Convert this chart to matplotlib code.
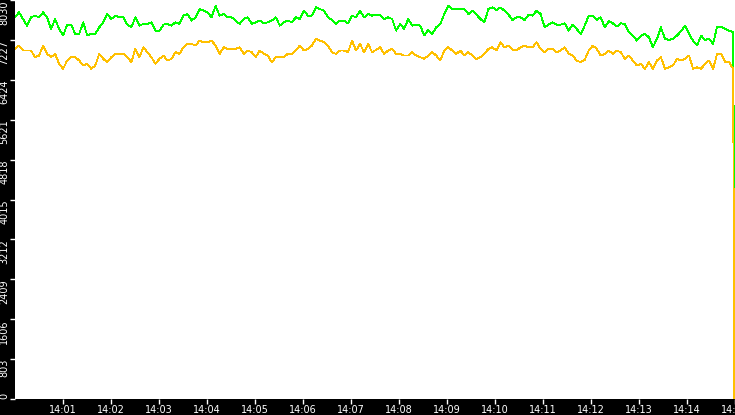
import numpy as np
import matplotlib
matplotlib.use('Agg')
import matplotlib.pyplot as plt

# one sample about every 5 s from 14:00:00, the last point is the drop just before 14:15
green = [7681, 7782, 7648, 7514, 7681, 7715, 7681, 7782, 7681, 7447, 7648, 7447, 7314,
         7534, 7534, 7347, 7347, 7581, 7314, 7347, 7347, 7481, 7581, 7748, 7648, 7715,
         7681, 7681, 7534, 7481, 7681, 7514, 7548, 7548, 7581, 7414, 7414, 7534, 7548,
         7514, 7581, 7548, 7715, 7748, 7615, 7681, 7849, 7815, 7782, 7681, 7916, 7715,
         7748, 7681, 7681, 7615, 7548, 7648, 7681, 7548, 7581, 7615, 7561, 7581, 7615,
         7681, 7514, 7581, 7615, 7581, 7681, 7648, 7815, 7715, 7715, 7882, 7849, 7815,
         7681, 7628, 7548, 7615, 7615, 7561, 7715, 7681, 7815, 7681, 7748, 7715, 7735,
         7735, 7648, 7681, 7648, 7414, 7548, 7447, 7648, 7514, 7534, 7514, 7314, 7427,
         7347, 7481, 7548, 7748, 7916, 7849, 7849, 7849, 7849, 7748, 7815, 7735, 7648,
         7581, 7849, 7882, 7829, 7882, 7815, 7735, 7628, 7681, 7681, 7628, 7735, 7715,
         7815, 7748, 7481, 7534, 7581, 7534, 7534, 7561, 7414, 7534, 7447, 7347, 7514,
         7715, 7715, 7628, 7681, 7481, 7601, 7561, 7494, 7561, 7548, 7380, 7314, 7213,
         7314, 7347, 7280, 7079, 7247, 7481, 7247, 7227, 7247, 7314, 7401, 7514, 7347,
         7213, 7113, 7314, 7227, 7247, 7146, 7494, 7494, 7447, 7414, 7380,
         3300]

orange = [7046, 7113, 7012, 7012, 7012, 6879, 6912, 7113, 6946, 6879, 6946, 6745, 6645,
          6812, 6879, 6879, 6812, 6711, 6745, 6645, 6711, 6946, 6845, 6778, 6879, 6946,
          6946, 6946, 6879, 6778, 7046, 6879, 7079, 6979, 6879, 6745, 6845, 6912, 6812,
          6845, 6979, 6946, 7079, 7146, 7146, 7113, 7213, 7180, 7180, 7213, 7113, 6946,
          7079, 7046, 7046, 7046, 7079, 6946, 7012, 6979, 6879, 7012, 6946, 6912, 6778,
          6879, 6879, 6879, 6946, 6946, 7012, 7113, 7012, 7046, 7113, 7247, 7213, 7180,
          7113, 6979, 6946, 7012, 7012, 6979, 7213, 7012, 7146, 6979, 7146, 6979, 7026,
          7079, 6946, 7012, 7046, 6946, 6946, 6912, 6912, 6979, 6912, 6879, 6845, 6912,
          6979, 6912, 6812, 7012, 7079, 7012, 6946, 7012, 6912, 6979, 6912, 6845, 6879,
          6946, 7046, 7079, 7012, 7180, 7079, 7113, 7026, 7012, 7079, 7113, 7079, 7079,
          7180, 7046, 6979, 7046, 7046, 6979, 7012, 7079, 6946, 6912, 6812, 6778, 6825,
          7012, 7113, 7046, 6912, 6946, 7012, 6946, 7012, 6979, 6845, 6912, 6812, 6711,
          6745, 6645, 6778, 6645, 6812, 6879, 6645, 6678, 6711, 6845, 6812, 6845, 6912,
          6645, 6678, 6645, 6745, 6812, 6645, 6946, 6946, 6778, 6778, 6645,
          0]

step_sec = 5.015
last_sec = 899.2
x_ticks = list(range(1, 16))
x_labels = ['14:%02d' % m for m in x_ticks]
y_ticks = list(range(0, 8031, 803))

t_sec = list(np.arange(len(green) - 1) * step_sec) + [last_sec]
t = np.array(t_sec) / 60.0

fig = plt.figure(figsize=(7.35, 4.15), dpi=100, facecolor='black')
W, H = 735.0, 415.0
ax = fig.add_axes([15 / W, 16 / H, 720 / W, 399 / H])
ax.set_facecolor('white')

ax.plot(t, green, color='#00ff00', lw=0.6, antialiased=False)
ax.plot(t, orange, color='#ffc000', lw=0.6, antialiased=False)

ax.set_xlim(0, 15)
ax.set_ylim(0, 8016)
for s in ax.spines.values():
    s.set_visible(False)

ax.set_xticks(x_ticks)
ax.set_xticklabels(x_labels)
ax.set_yticks(y_ticks)
ax.set_yticklabels([str(v) for v in y_ticks])
ax.tick_params(axis='both', colors='white', labelcolor='white', length=3.6,
               width=1, labelsize=7, pad=0.5)

for lab in ax.get_yticklabels():
    lab.set_rotation(90)
    lab.set_va('top')
    lab.set_ha('right')
ax.get_yticklabels()[0].set_va('bottom')

fig.savefig('out.png', dpi=100, facecolor='black')
